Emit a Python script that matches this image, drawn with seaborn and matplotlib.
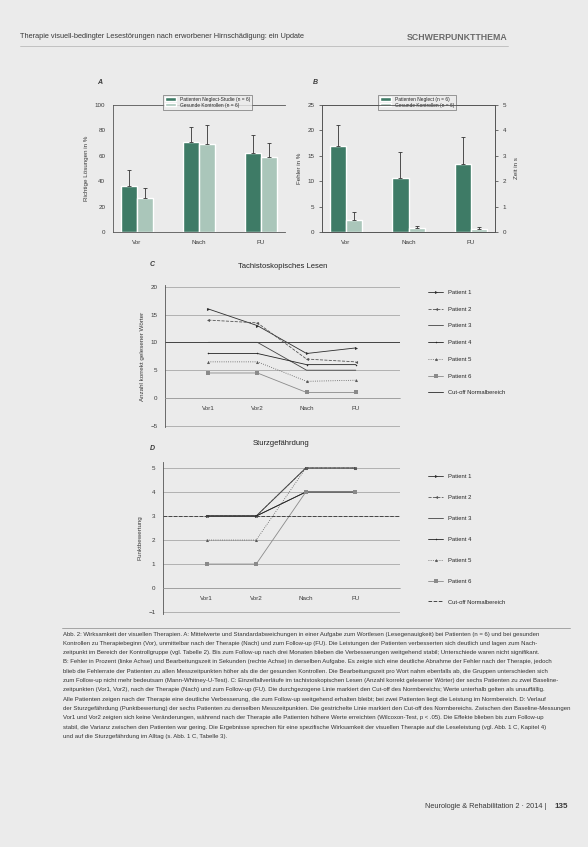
import numpy as np
import pandas as pd
import matplotlib
matplotlib.use("Agg")
import matplotlib.pyplot as plt
import seaborn as sns

# Panel A: reading accuracy (%), bars + SD
phases = ["Vor", "Nach", "FU"]
group_labels_a = ["Patienten Neglect-Studie (n = 6)", "Gesunde Kontrollen (n = 6)"]
a_patients = [36, 71, 62]
a_patients_sd = [13, 12, 14]
a_controls = [27, 69, 59]
a_controls_sd = [8, 15, 11]

# Panel B: errors (%)
group_labels_b = ["Patienten Neglect (n = 6)", "Gesunde Kontrollen (n = 6)"]
b_patients = [17.0, 10.7, 13.4]
b_patients_sd = [4.0, 5.0, 5.3]
b_controls = [2.4, 0.8, 0.6]
b_controls_sd = [1.5, 0.4, 0.4]

# Panels C and D: single cases
sessions = ["Vor1", "Vor2", "Nach", "FU"]
patients = ["Patient 1", "Patient 2", "Patient 3", "Patient 4", "Patient 5", "Patient 6"]
c_values = [[16, 13, 8, 9], [14, 13.5, 7, 6.5], [10, 10, 5, 5],
            [8, 8, 6, 6], [6.5, 6.5, 3, 3.2], [4.5, 4.5, 1, 1]]
c_cutoff = 10
d_values = [[3, 3, 5, 5], [3, 3, 5, 5], [3, 3, 4, 4],
            [3, 3, 4, 4], [2, 2, 5, 5], [1, 1, 4, 4]]
d_cutoff = 3

caption = [
    "Abb. 2: Wirksamkeit der visuellen Therapien. A: Mittelwerte und Standardabweichungen in einer Aufgabe zum Wortlesen (Lesegenauigkeit) bei Patienten (n = 6) und bei gesunden",
    "Kontrollen zu Therapiebeginn (Vor), unmittelbar nach der Therapie (Nach) und zum Follow-up (FU). Die Leistungen der Patienten verbesserten sich deutlich und lagen zum Nach-",
    "zeitpunkt im Bereich der Kontrollgruppe (vgl. Tabelle 2). Bis zum Follow-up nach drei Monaten blieben die Verbesserungen weitgehend stabil; Unterschiede waren nicht signifikant.",
    "B: Fehler in Prozent (linke Achse) und Bearbeitungszeit in Sekunden (rechte Achse) in derselben Aufgabe. Es zeigte sich eine deutliche Abnahme der Fehler nach der Therapie, jedoch",
    "blieb die Fehlerrate der Patienten zu allen Messzeitpunkten höher als die der gesunden Kontrollen. Die Bearbeitungszeit pro Wort nahm ebenfalls ab, die Gruppen unterschieden sich",
    "zum Follow-up nicht mehr bedeutsam (Mann-Whitney-U-Test). C: Einzelfallverläufe im tachistoskopischen Lesen (Anzahl korrekt gelesener Wörter) der sechs Patienten zu zwei Baseline-",
    "zeitpunkten (Vor1, Vor2), nach der Therapie (Nach) und zum Follow-up (FU). Die durchgezogene Linie markiert den Cut-off des Normbereichs; Werte unterhalb gelten als unauffällig.",
    "Alle Patienten zeigen nach der Therapie eine deutliche Verbesserung, die zum Follow-up weitgehend erhalten bleibt; bei zwei Patienten liegt die Leistung im Normbereich. D: Verlauf",
    "der Sturzgefährdung (Punktbewertung) der sechs Patienten zu denselben Messzeitpunkten. Die gestrichelte Linie markiert den Cut-off des Normbereichs. Zwischen den Baseline-Messungen",
    "Vor1 und Vor2 zeigten sich keine Veränderungen, während nach der Therapie alle Patienten höhere Werte erreichten (Wilcoxon-Test, p < .05). Die Effekte blieben bis zum Follow-up",
    "stabil, die Varianz zwischen den Patienten war gering. Die Ergebnisse sprechen für eine spezifische Wirksamkeit der visuellen Therapie auf die Leseleistung (vgl. Abb. 1 C, Kapitel 4)",
    "und auf die Sturzgefährdung im Alltag (s. Abb. 1 C, Tabelle 3).",
]

bg = "#ebebeb"
dark = "#3e7b66"
light = "#aac6ba"
ink = "#3a3a3a"
grid = "#9a9a9a"

sns.set_style("white")
plt.rcParams["font.family"] = ["Liberation Sans", "DejaVu Sans"]
plt.rcParams["axes.facecolor"] = "none"

W, H = 588, 847
fig = plt.figure(figsize=(5.88, 8.47), dpi=100, facecolor=bg)


def box(x0, y0, x1, y1):
    return [x0 / W, 1 - y1 / H, (x1 - x0) / W, (y1 - y0) / H]


def bar_panel(ax, pat, pat_sd, ctl, ctl_sd, labels):
    df = pd.DataFrame({"Phase": phases * 2,
                       "Gruppe": [labels[0]] * 3 + [labels[1]] * 3,
                       "Wert": pat + ctl})
    sns.barplot(data=df, x="Phase", y="Wert", hue="Gruppe", palette=[dark, light],
                width=0.52, errorbar=None, saturation=1, ax=ax)
    for cont, sd in zip(ax.containers, [pat_sd, ctl_sd]):
        xs = [b.get_x() + b.get_width() / 2 for b in cont]
        hs = [b.get_height() for b in cont]
        ax.errorbar(xs, hs, yerr=[np.zeros(len(sd)), sd], fmt="none", ecolor="#333333",
                    elinewidth=0.6, capsize=1.5, capthick=0.6)
    ax.set_xlabel("")
    ax.tick_params(labelsize=4.5, colors=ink, length=2, width=0.5)
    for s in ax.spines.values():
        s.set_linewidth(0.6)
        s.set_color("#555555")
    leg = ax.legend(loc="upper center", bbox_to_anchor=(0.55, 1.1), fontsize=3.5, frameon=True,
                    fancybox=False, edgecolor="#555555", handlelength=2.2, handleheight=0.6,
                    borderpad=0.4, labelspacing=0.2)
    leg.get_frame().set_linewidth(0.5)
    leg.get_frame().set_facecolor(bg)


# ---- A ----
ax_a = fig.add_axes(box(113, 105, 285, 232))
bar_panel(ax_a, a_patients, a_patients_sd, a_controls, a_controls_sd, group_labels_a)
ax_a.set_ylim(0, 100)
ax_a.set_yticks([0, 20, 40, 60, 80, 100])
ax_a.set_ylabel("Richtige Lösungen in %", fontsize=4.5, color=ink)
ax_a.spines["right"].set_visible(False)
fig.text(97 / W, 1 - 84 / H, "A", fontsize=5, fontweight="bold", style="italic", color=ink)

# ---- B ----
ax_b = fig.add_axes(box(322, 105, 495, 232))
bar_panel(ax_b, b_patients, b_patients_sd, b_controls, b_controls_sd, group_labels_b)
ax_b.set_ylim(0, 25)
ax_b.set_yticks([0, 5, 10, 15, 20, 25])
ax_b.set_ylabel("Fehler in %", fontsize=4.5, color=ink)
ax_b2 = ax_b.twinx()
ax_b2.set_ylim(0, 5)
ax_b2.set_yticks([0, 1, 2, 3, 4, 5])
ax_b2.set_ylabel("Zeit in s", fontsize=4.5, color=ink, labelpad=6)
ax_b2.tick_params(labelsize=4.5, colors=ink, length=2, width=0.5)
for s in ax_b2.spines.values():
    s.set_linewidth(0.6)
    s.set_color("#555555")
fig.text(313 / W, 1 - 84 / H, "B", fontsize=5, fontweight="bold", style="italic", color=ink)


# ---- C / D line panels ----
styles = {
    "Patient 1": dict(color="#2e2e2e", marker=">", linestyle="-"),
    "Patient 2": dict(color="#555555", marker="<", linestyle="--"),
    "Patient 3": dict(color="#444444", marker="", linestyle="-"),
    "Patient 4": dict(color="#222222", marker=".", linestyle="-"),
    "Patient 5": dict(color="#5a5a5a", marker="^", linestyle=":"),
    "Patient 6": dict(color="#8a8a8a", marker="s", linestyle="-"),
}


def line_panel(ax, values, cutoff, cut_style, title, ylabel, legend_top, spacing):
    rows = []
    for p, vals in zip(patients, values):
        for s, v in zip(sessions, vals):
            rows.append({"Patient": p, "Zeitpunkt": s, "Wert": v})
    df = pd.DataFrame(rows)
    for p in patients:
        sns.lineplot(data=df[df["Patient"] == p], x="Zeitpunkt", y="Wert", sort=False, ax=ax,
                     label=p, lw=0.6, markersize=2.2, markeredgewidth=0, **styles[p])
    ax.axhline(cutoff, color="#444444", lw=0.7, linestyle=cut_style, label="Cut-off Normalbereich")
    ax.grid(axis="y", color=grid, lw=0.5)
    ax.set_axisbelow(True)
    ax.spines["top"].set_visible(False)
    ax.spines["right"].set_visible(False)
    ax.spines["bottom"].set_position(("data", 0))
    ax.spines["bottom"].set_color(grid)
    ax.spines["bottom"].set_linewidth(0.5)
    ax.spines["left"].set_color("#555555")
    ax.spines["left"].set_linewidth(0.6)
    ax.tick_params(labelsize=4.5, colors=ink, length=2, width=0.5)
    ax.set_xlabel("")
    ax.set_ylabel(ylabel, fontsize=4.5, color=ink)
    ax.set_title(title, fontsize=5.5, color="#222222", pad=12)
    ax.set_xlim(-0.88, 3.9)
    ax.legend(loc="upper left", bbox_to_anchor=(425 / W, 1 - legend_top / H),
              bbox_transform=fig.transFigure, frameon=False, fontsize=4.2,
              handlelength=2.6, labelspacing=spacing * 4 / 4.2, borderpad=0)


ax_c = fig.add_axes(box(165, 285, 400, 427))
line_panel(ax_c, c_values, c_cutoff, "-", "Tachistoskopisches Lesen",
           "Anzahl korrekt gelesener Wörter", 287, 2.1)
ax_c.set_ylim(-5.2, 20.3)
ax_c.set_yticks([-5, 0, 5, 10, 15, 20])
fig.text(150 / W, 1 - 266 / H, "C", fontsize=5, fontweight="bold", style="italic", color=ink)

ax_d = fig.add_axes(box(163, 462, 400, 614))
line_panel(ax_d, d_values, d_cutoff, "--", "Sturzgefährdung", "Punktbewertung", 471, 2.85)
ax_d.set_ylim(-1.08, 5.25)
ax_d.set_yticks([-1, 0, 1, 2, 3, 4, 5])
fig.text(150 / W, 1 - 450 / H, "D", fontsize=5, fontweight="bold", style="italic", color=ink)

# ---- page furniture ----
fig.text(20 / W, 1 - 37 / H,
         "Therapie visuell-bedingter Lesestörungen nach erworbener Hirnschädigung: ein Update",
         fontsize=5.3, color="#3a3a3a", va="center")
fig.text(508 / W, 1 - 37 / H, "SCHWERPUNKTTHEMA", fontsize=6.3, color="#6a6a6a",
         fontweight="bold", ha="right", va="center")
fig.add_artist(plt.Line2D([20 / W, 508 / W], [1 - 46 / H] * 2, color="#bbbbbb", lw=0.6))
fig.add_artist(plt.Line2D([62 / W, 570 / W], [1 - 628 / H] * 2, color="#999999", lw=0.6))
for i, line in enumerate(caption):
    fig.text(63 / W, 1 - (634 + i * 9.3) / H, line, fontsize=4.35, color="#333333", va="center")
fig.text(425 / W, 1 - 806 / H, "Neurologie & Rehabilitation 2 · 2014 |", fontsize=5.3,
         color="#3a3a3a", va="center")
fig.text(568 / W, 1 - 806 / H, "135", fontsize=5.8, color="#3a3a3a", va="center",
         ha="right", fontweight="bold")

fig.savefig("out.png", dpi=100, facecolor=bg)
